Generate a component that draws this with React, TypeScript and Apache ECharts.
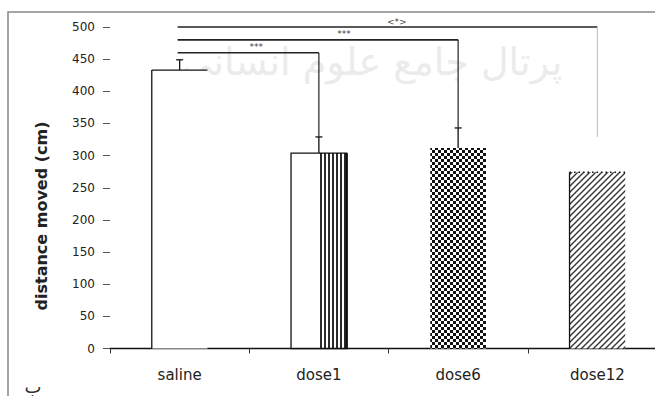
import React, { useEffect, useRef } from 'react';
import * as echarts from 'echarts';

// ---- data ----
const categories = ['saline', 'dose1', 'dose6', 'dose12'];
const means = [433, 304, 312, 274];
const errors = [16, 25, 31, 0];

// significance brackets (data units / category indices)
const bracketFrom = [0, 0, 0];
const bracketTo = [3, 2, 1];
const bracketLevel = [500, 480, 460];
const bracketDropTo = [329, 343, 329];
const bracketLabels = ['<*>', '***', '***'];

// ---- styles ----
const barKinds = ['open', 'halfStripe', 'checker', 'diagonal'];
const bracketLabelFrac = [0.52, 0.59, 0.55];
const bracketDropColor = ['#c8c8c8', '#222', '#222'];

function makePattern(w: number, h: number, draw: (ctx: CanvasRenderingContext2D) => void) {
  const c = document.createElement('canvas');
  c.width = w;
  c.height = h;
  const ctx = c.getContext('2d') as CanvasRenderingContext2D;
  ctx.fillStyle = '#fff';
  ctx.fillRect(0, 0, w, h);
  draw(ctx);
  return { image: c.toDataURL(), repeat: 'repeat', imageWidth: w, imageHeight: h };
}

export default function App() {
  const ref = useRef<HTMLDivElement>(null);

  useEffect(() => {
    if (!ref.current) return;
    const chart = echarts.init(ref.current, null, { renderer: 'svg' });

    const stripe = makePattern(4, 4, (ctx) => {
      ctx.fillStyle = '#2a2a2a';
      ctx.fillRect(0, 0, 2, 4);
    });
    const checker = makePattern(6, 6, (ctx) => {
      ctx.fillStyle = '#111';
      ctx.fillRect(0, 0, 3, 3);
      ctx.fillRect(3, 3, 3, 3);
    });
    const diagonal = makePattern(6, 6, (ctx) => {
      ctx.strokeStyle = '#333';
      ctx.lineWidth = 1.4;
      ctx.beginPath();
      ctx.moveTo(-1, 7);
      ctx.lineTo(7, -1);
      ctx.moveTo(-1, 1);
      ctx.lineTo(1, -1);
      ctx.moveTo(5, 7);
      ctx.lineTo(7, 5);
      ctx.stroke();
    });

    const font = 'DejaVu Sans';

    const option: any = {
      animation: false,
      backgroundColor: '#fff',
      grid: { left: 110, width: 557, top: 27, height: 321.5, containLabel: false },
      xAxis: {
        type: 'category',
        data: categories,
        boundaryGap: true,
        axisLine: { show: true, lineStyle: { color: '#111', width: 1.3 } },
        axisTick: { show: true, length: 5, lineStyle: { color: '#333' } },
        axisLabel: { fontSize: 15, fontFamily: font, color: '#222', margin: 19 },
        splitLine: { show: false },
      },
      yAxis: {
        type: 'value',
        min: 0,
        max: 500,
        interval: 50,
        axisLine: { show: false },
        axisTick: { show: true, length: 7, lineStyle: { color: '#555' } },
        axisLabel: { fontSize: 12, fontFamily: font, color: '#222', margin: 15 },
        splitLine: { show: false },
      },
      graphic: [
        {
          type: 'rect',
          z: -10,
          shape: { x: 8, y: 12, width: 750, height: 500 },
          style: { fill: 'none', stroke: '#888', lineWidth: 1.5 },
        },
        {
          type: 'text',
          z: -5,
          x: 372,
          y: 62,
          style: {
            text: 'پرتال جامع علوم انسانی',
            fontSize: 38,
            fontFamily: font,
            fill: '#ebebeb',
            align: 'center',
            verticalAlign: 'middle',
          },
        },
        {
          type: 'text',
          x: 41,
          y: 216,
          rotation: Math.PI / 2,
          style: {
            text: 'distance moved (cm)',
            fontSize: 16,
            fontWeight: 'bold',
            fontFamily: font,
            fill: '#222',
            align: 'center',
            verticalAlign: 'middle',
          },
        },
        {
          type: 'text',
          x: 33,
          y: 386,
          style: {
            text: 'ب',
            fontSize: 18,
            fontFamily: font,
            fill: '#333',
            align: 'center',
            verticalAlign: 'middle',
          },
        },
      ],
      series: [
        {
          type: 'custom',
          z: 3,
          encode: { x: 0, y: 1 },
          data: means.map((v, i) => [i, v]),
          renderItem: (params: any, api: any) => {
            const i = params.dataIndex;
            const base = api.coord([api.value(0), 0]);
            const top = api.coord([api.value(0), api.value(1)]);
            const bw = api.size([1, 0])[0] * 0.4;
            const x0 = base[0] - bw / 2;
            const x1 = x0 + bw;
            const yT = top[1];
            const yB = base[1];
            const h = yB - yT;
            const kind = barKinds[i];
            const children: any[] = [];
            const ln = (ax: number, ay: number, bx: number, by: number, w = 1.3, dash?: number[]) => ({
              type: 'line',
              shape: { x1: ax, y1: ay, x2: bx, y2: by },
              style: { stroke: '#111', lineWidth: w, lineDash: dash },
            });
            if (kind === 'open') {
              children.push({ type: 'rect', shape: { x: x0, y: yT, width: bw, height: h }, style: { fill: '#fff' } });
              children.push(ln(x0, yT, x1, yT));
              children.push(ln(x0, yT, x0, yB));
            } else if (kind === 'halfStripe') {
              children.push({ type: 'rect', shape: { x: x0, y: yT, width: bw, height: h }, style: { fill: '#fff' } });
              children.push({ type: 'rect', shape: { x: x0 + bw / 2, y: yT, width: bw / 2, height: h }, style: { fill: stripe } });
              children.push({ type: 'rect', shape: { x: x0, y: yT, width: bw, height: h }, style: { fill: 'none', stroke: '#111', lineWidth: 1.3 } });
              children.push(ln(x1, yT, x1, yB, 2.2));
            } else if (kind === 'checker') {
              children.push({ type: 'rect', shape: { x: x0, y: yT, width: bw, height: h }, style: { fill: checker } });
            } else {
              children.push({ type: 'rect', shape: { x: x0, y: yT, width: bw, height: h }, style: { fill: diagonal } });
              children.push(ln(x0, yT, x0, yB, 1.3));
              children.push(ln(x0, yT, x1, yT, 1.5, [1.5, 3]));
            }
            return { type: 'group', children };
          },
        },
        {
          type: 'custom',
          z: 4,
          encode: { x: 0, y: 1 },
          data: means.map((v, i) => [i, v + errors[i]]),
          renderItem: (params: any, api: any) => {
            const i = params.dataIndex;
            if (!errors[i]) return { type: 'group', children: [] };
            const p0 = api.coord([i, means[i]]);
            const p1 = api.coord([i, means[i] + errors[i]]);
            const st = { stroke: '#111', lineWidth: 1.3 };
            return {
              type: 'group',
              children: [
                { type: 'line', shape: { x1: p0[0], y1: p0[1], x2: p1[0], y2: p1[1] }, style: st },
                { type: 'line', shape: { x1: p1[0] - 3.5, y1: p1[1], x2: p1[0] + 3.5, y2: p1[1] }, style: st },
              ],
            };
          },
        },
        {
          type: 'custom',
          z: 5,
          clip: false,
          encode: { x: 0, y: 1 },
          data: bracketLevel.map((lv, k) => [bracketFrom[k], lv]),
          renderItem: (params: any, api: any) => {
            const k = params.dataIndex;
            const a = api.coord([bracketFrom[k], bracketLevel[k]]);
            const b = api.coord([bracketTo[k], bracketLevel[k]]);
            const d = api.coord([bracketTo[k], bracketDropTo[k]]);
            const lx = a[0] + (b[0] - a[0]) * bracketLabelFrac[k];
            return {
              type: 'group',
              children: [
                { type: 'line', shape: { x1: a[0] - 2, y1: a[1], x2: b[0], y2: b[1] }, style: { stroke: '#222', lineWidth: 1.6 } },
                { type: 'line', shape: { x1: b[0], y1: b[1], x2: d[0], y2: d[1] }, style: { stroke: bracketDropColor[k], lineWidth: 1.2 } },
                {
                  type: 'text',
                  x: lx,
                  y: a[1] - 1,
                  style: {
                    text: bracketLabels[k],
                    fontSize: 9,
                    fontFamily: font,
                    fill: '#444',
                    align: 'center',
                    verticalAlign: 'bottom',
                  },
                },
              ],
            };
          },
        },
      ],
    };

    chart.setOption(option);
    return () => chart.dispose();
  }, []);

  return (
    <div
      ref={ref}
      style={{ position: 'fixed', left: 0, top: 0, width: 720, height: 396, background: '#fff' }}
    />
  );
}
